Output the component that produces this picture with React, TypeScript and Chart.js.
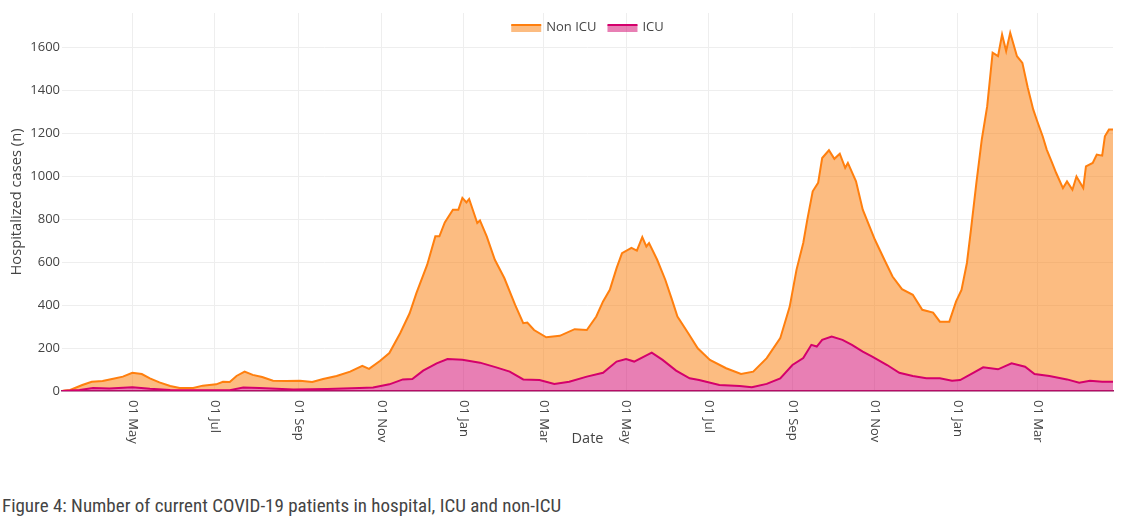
import React, { useEffect, useRef } from 'react';
import { Chart, registerables } from 'chart.js';

Chart.register(...registerables);

const startDate = '2020-03-10';
const endDate = '2022-04-26';

const nonIcuLabel = 'Non ICU';
const icuLabel = 'ICU';

const nonIcuDates = [
  '2020-03-10','2020-03-12','2020-03-16','2020-03-25','2020-04-01','2020-04-09','2020-04-16','2020-04-24','2020-05-01','2020-05-08',
  '2020-05-14','2020-05-21','2020-05-29','2020-06-05','2020-06-15','2020-06-22','2020-07-02','2020-07-07','2020-07-12','2020-07-17',
  '2020-07-23','2020-07-29','2020-08-05','2020-08-13','2020-08-23','2020-09-02','2020-09-11','2020-09-19','2020-09-29','2020-10-09',
  '2020-10-18','2020-10-23','2020-10-31','2020-11-07','2020-11-15','2020-11-22','2020-11-27','2020-12-05','2020-12-11','2020-12-14',
  '2020-12-18','2020-12-24','2020-12-28','2020-12-31','2021-01-03','2021-01-05','2021-01-11','2021-01-13','2021-01-18','2021-01-24',
  '2021-01-31','2021-02-08','2021-02-14','2021-02-17','2021-02-22','2021-03-03','2021-03-13','2021-03-24','2021-04-02','2021-04-09',
  '2021-04-14','2021-04-19','2021-04-24','2021-04-28','2021-05-05','2021-05-09','2021-05-13','2021-05-16','2021-05-18','2021-05-24',
  '2021-05-30','2021-06-04','2021-06-08','2021-06-16','2021-06-23','2021-07-02','2021-07-14','2021-07-25','2021-08-03','2021-08-13',
  '2021-08-23','2021-08-30','2021-09-04','2021-09-09','2021-09-12','2021-09-16','2021-09-20','2021-09-23','2021-09-28','2021-10-02',
  '2021-10-06','2021-10-10','2021-10-12','2021-10-18','2021-10-23','2021-11-01','2021-11-08','2021-11-14','2021-11-21','2021-11-29',
  '2021-12-06','2021-12-14','2021-12-19','2021-12-26','2021-12-31','2022-01-04','2022-01-08','2022-01-11','2022-01-15','2022-01-19',
  '2022-01-23','2022-01-27','2022-01-31','2022-02-03','2022-02-06','2022-02-09','2022-02-14','2022-02-18','2022-02-22','2022-02-26',
  '2022-03-01','2022-03-05','2022-03-08','2022-03-12','2022-03-15','2022-03-20','2022-03-23','2022-03-27','2022-03-30','2022-04-04',
  '2022-04-06','2022-04-11','2022-04-14','2022-04-18','2022-04-20','2022-04-23','2022-04-26',
];

const nonIcuValues = [
  0, 2, 5, 28, 43, 47, 56, 67, 85, 79,
  59, 40, 23, 14, 14, 25, 31, 43, 42, 70,
  90, 75, 65, 48, 47, 48, 42, 56, 70, 90,
  117, 103, 140, 177, 269, 362, 456, 588, 720, 720,
  785, 844, 844, 899, 878, 894, 782, 794, 720, 611,
  526, 401, 316, 319, 284, 250, 257, 288, 284, 347,
  417, 471, 572, 642, 666, 654, 717, 673, 689, 611,
  518, 424, 347, 269, 199, 145, 106, 79, 90, 153,
  246, 393, 564, 689, 798, 930, 969, 1085, 1121, 1081,
  1105, 1039, 1062, 976, 844, 704, 611, 533, 474, 448,
  378, 365, 323, 323, 417, 471, 596, 751, 969, 1171,
  1326, 1575, 1559, 1660, 1583, 1668, 1559, 1528, 1412, 1311,
  1256, 1186, 1124, 1062, 1015, 945, 976, 937, 999, 945,
  1046, 1062, 1101, 1096, 1186, 1217, 1217,
];

const icuDates = [
  '2020-03-10','2020-03-23','2020-04-02','2020-04-14','2020-05-01','2020-05-14','2020-05-29','2020-06-20','2020-07-12','2020-07-22',
  '2020-08-03','2020-08-28','2020-09-22','2020-10-16','2020-10-26','2020-11-07','2020-11-17','2020-11-24','2020-12-02','2020-12-12',
  '2020-12-20','2020-12-31','2021-01-13','2021-01-25','2021-02-04','2021-02-14','2021-02-26','2021-03-09','2021-03-20','2021-04-02',
  '2021-04-14','2021-04-24','2021-05-01','2021-05-07','2021-05-20','2021-05-28','2021-06-07','2021-06-17','2021-06-24','2021-07-09',
  '2021-07-24','2021-08-02','2021-08-13','2021-08-23','2021-09-01','2021-09-09','2021-09-15','2021-09-19','2021-09-23','2021-09-30',
  '2021-10-08','2021-10-15','2021-10-23','2021-10-30','2021-11-10','2021-11-19','2021-11-29','2021-12-09','2021-12-19','2021-12-28',
  '2022-01-03','2022-01-12','2022-01-20','2022-01-31','2022-02-10','2022-02-20','2022-02-27','2022-03-10','2022-03-23','2022-04-01',
  '2022-04-09','2022-04-18','2022-04-26',
];

const icuValues = [
  0, 5, 14, 12, 17, 10, 5, 4, 4, 16,
  14, 7, 9, 14, 16, 31, 54, 56, 95, 129,
  149, 145, 132, 110, 90, 54, 51, 33, 43, 67,
  85, 137, 149, 137, 179, 145, 95, 59, 51, 28,
  23, 17, 33, 59, 121, 153, 215, 207, 238, 253,
  238, 215, 183, 160, 121, 85, 70, 59, 59, 48,
  51, 82, 110, 101, 129, 113, 79, 70, 54, 39,
  48, 43, 43,
];

const tickDates = [
  '2020-05-01','2020-07-01','2020-09-01','2020-11-01','2021-01-01','2021-03-01',
  '2021-05-01','2021-07-01','2021-09-01','2021-11-01','2022-01-01','2022-03-01',
];
const tickLabels = [
  '01 May','01 Jul','01 Sep','01 Nov','01 Jan','01 Mar',
  '01 May','01 Jul','01 Sep','01 Nov','01 Jan','01 Mar',
];

const yTickValues = [0, 200, 400, 600, 800, 1000, 1200, 1400, 1600];
const yMax = 1760;
const yTitle = 'Hospitalized cases (n)';
const xTitle = 'Date';
const caption = 'Figure 4: Number of current COVID-19 patients in hospital, ICU and non-ICU';

const DAY = 86400000;
const dayOf = (s: string) => (Date.parse(s) - Date.parse(startDate)) / DAY;

const FONT = "'Open Sans', 'DejaVu Sans', sans-serif";
const TEXT = '#444';

const NON_ICU_LINE = '#ff7f0e';
const NON_ICU_FILL = 'rgba(250,122,4,0.5)';
const ICU_LINE = '#d4006c';
const ICU_FILL = 'rgba(209,0,105,0.5)';

export default function App() {
  const ref = useRef<HTMLCanvasElement>(null);

  useEffect(() => {
    document.body.style.margin = '0';
    const canvas = ref.current;
    if (!canvas) return;

    const legendPlugin = {
      id: 'plotlyLegend',
      afterDraw(chart: any) {
        const ctx = chart.ctx;
        const area = chart.chartArea;
        const items = [
          { label: nonIcuLabel, line: NON_ICU_LINE, fill: NON_ICU_FILL },
          { label: icuLabel, line: ICU_LINE, fill: ICU_FILL },
        ];
        ctx.save();
        ctx.font = `13px ${FONT}`;
        const sw = 30;
        const gap = 5;
        const itemGap = 11;
        const widths = items.map((it) => ctx.measureText(it.label).width);
        let total = 0;
        widths.forEach((w, i) => {
          total += sw + gap + w + (i < widths.length - 1 ? itemGap : 0);
        });
        let x = (area.left + area.right) / 2 - total / 2;
        const yc = 27;
        items.forEach((it, i) => {
          ctx.fillStyle = it.fill;
          ctx.fillRect(x, 25, sw, 7);
          ctx.strokeStyle = it.line;
          ctx.lineWidth = 2;
          ctx.beginPath();
          ctx.moveTo(x, 25);
          ctx.lineTo(x + sw, 25);
          ctx.stroke();
          ctx.fillStyle = TEXT;
          ctx.textAlign = 'left';
          ctx.textBaseline = 'middle';
          ctx.fillText(it.label, x + sw + gap, yc);
          x += sw + gap + widths[i] + itemGap;
        });
        ctx.restore();
      },
    };

    const xLabelPlugin = {
      id: 'rotatedXLabels',
      afterDraw(chart: any) {
        const ctx = chart.ctx;
        const xs = chart.scales.x;
        const bottom = chart.chartArea.bottom;
        ctx.save();
        ctx.font = `13px ${FONT}`;
        ctx.fillStyle = TEXT;
        ctx.textAlign = 'left';
        ctx.textBaseline = 'middle';
        tickDates.forEach((d, i) => {
          const px = xs.getPixelForValue(dayOf(d));
          ctx.save();
          ctx.translate(px, bottom + 9);
          ctx.rotate(Math.PI / 2);
          ctx.fillText(tickLabels[i], 0, 0);
          ctx.restore();
        });
        ctx.restore();
      },
    };

    const chart = new Chart(canvas, {
      type: 'line',
      data: {
        datasets: [
          {
            label: icuLabel,
            data: icuDates.map((d, i) => ({ x: dayOf(d), y: icuValues[i] })),
            borderColor: ICU_LINE,
            backgroundColor: ICU_FILL,
            fill: 'origin',
            borderWidth: 2,
            pointRadius: 0,
            tension: 0,
          },
          {
            label: nonIcuLabel,
            data: nonIcuDates.map((d, i) => ({ x: dayOf(d), y: nonIcuValues[i] })),
            borderColor: NON_ICU_LINE,
            backgroundColor: NON_ICU_FILL,
            fill: '-1',
            borderWidth: 2,
            pointRadius: 0,
            tension: 0,
          },
        ],
      },
      options: {
        responsive: false,
        animation: false,
        devicePixelRatio: 1,
        layout: { padding: { top: 13, right: 13, left: 0, bottom: 0 } },
        plugins: {
          legend: { display: false },
          tooltip: { enabled: false },
        },
        font: { family: FONT },
        scales: {
          x: {
            type: 'linear',
            min: 0,
            max: dayOf(endDate),
            afterBuildTicks: (s: any) => {
              s.ticks = tickDates.map((d) => ({ value: dayOf(d) }));
            },
            afterFit: (s: any) => {
              s.height = 69;
            },
            ticks: { display: false },
            grid: { color: '#eeeeee', drawTicks: false },
            border: { display: true, color: '#9c1b62', width: 1.5 },
            title: {
              display: true,
              text: xTitle,
              color: TEXT,
              font: { family: FONT, size: 14.5 },
              padding: { top: 0, bottom: 12 },
            },
          },
          y: {
            min: 0,
            max: yMax,
            afterBuildTicks: (s: any) => {
              s.ticks = yTickValues.map((v) => ({ value: v }));
            },
            afterFit: (s: any) => {
              s.width = 62;
            },
            ticks: {
              color: TEXT,
              font: { family: FONT, size: 13 },
              padding: 2,
              callback: (v: any) => String(v),
            },
            grid: { color: '#eeeeee', drawTicks: false },
            border: { display: false },
            title: {
              display: true,
              text: yTitle,
              color: TEXT,
              font: { family: FONT, size: 14.7 },
              padding: { top: 8, bottom: 0 },
            },
          },
        },
      } as any,
      plugins: [legendPlugin, xLabelPlugin],
    });

    return () => chart.destroy();
  }, []);

  return (
    <div style={{ width: 1126, height: 525, position: 'relative', background: '#fff' }}>
      <canvas ref={ref} width={1126} height={460} style={{ display: 'block' }} />
      <div
        style={{
          marginTop: 35,
          paddingLeft: 2,
          fontFamily: "'Liberation Sans Narrow', 'Roboto Condensed', 'Arial Narrow', Roboto, sans-serif",
          fontSize: 19,
          lineHeight: '22px',
          color: TEXT,
          whiteSpace: 'nowrap',
        }}
      >
        {caption}
      </div>
    </div>
  );
}
